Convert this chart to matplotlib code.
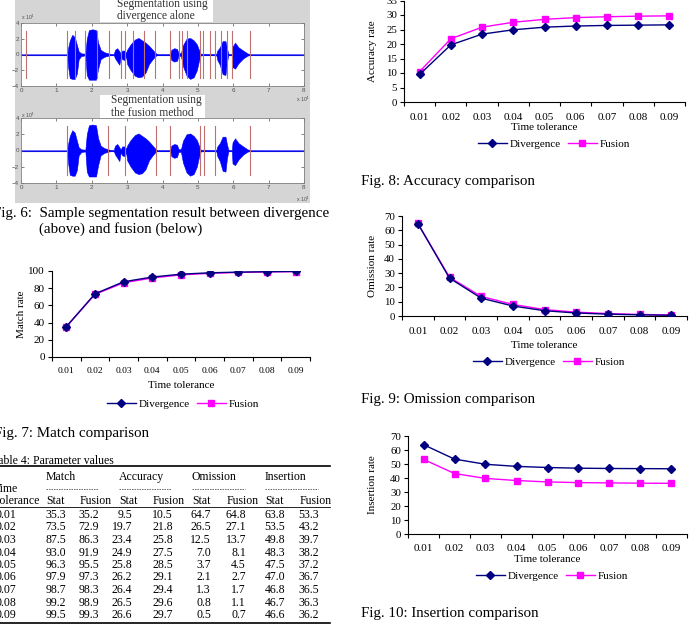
import numpy as np
import matplotlib
matplotlib.use("Agg")
import matplotlib.pyplot as plt
from matplotlib.lines import Line2D
from matplotlib.patches import Rectangle

W, H = 695, 635
plt.rcParams['font.family'] = ['Liberation Serif', 'DejaVu Serif']

# ---- data (Table 4) ----
tolerances = ['0.01', '0.02', '0.03', '0.04', '0.05', '0.06', '0.07', '0.08', '0.09']
table_tol = ['0.01', '0.02', '0.03', '0.04', '0.05', '0.06', '0.07', '0.08', '0.09']
match_stat = [35.3, 73.5, 87.5, 93.0, 96.3, 97.9, 98.7, 99.2, 99.5]
match_fusion = [35.2, 72.9, 86.3, 91.9, 95.5, 97.3, 98.3, 98.9, 99.3]
acc_stat = [9.5, 19.7, 23.4, 24.9, 25.8, 26.2, 26.4, 26.5, 26.6]
acc_fusion = [10.5, 21.8, 25.8, 27.5, 28.5, 29.1, 29.4, 29.6, 29.7]
omi_stat = [64.7, 26.5, 12.5, 7.0, 3.7, 2.1, 1.3, 0.8, 0.5]
omi_fusion = [64.8, 27.1, 13.7, 8.1, 4.5, 2.7, 1.7, 1.1, 0.7]
ins_stat = [63.8, 53.5, 49.8, 48.3, 47.5, 47.0, 46.8, 46.7, 46.6]
ins_fusion = [53.3, 43.2, 39.7, 38.2, 37.2, 36.7, 36.5, 36.3, 36.2]

# ---- waveform envelope (x in 1e4 samples, amplitude in 1e4) ----
wave_x = [0, 1.30, 1.33, 1.38, 1.45, 1.52, 1.58, 1.63, 1.70, 1.82, 1.86, 1.92, 2.02, 2.12,
          2.18, 2.25, 2.35, 2.50, 2.62, 2.66, 2.72, 2.78, 2.82, 2.86, 2.93, 2.97, 3.00,
          3.10, 3.22, 3.32, 3.42, 3.52, 3.62, 3.72, 3.80, 3.85, 4.22, 4.25, 4.33, 4.41,
          4.45, 4.52, 4.58, 4.68, 4.78, 4.88, 4.97, 5.03, 5.08, 5.52, 5.55, 5.62, 5.70,
          5.78, 5.82, 5.86, 5.96, 5.98, 6.05, 6.15, 6.28, 6.40, 6.48, 8.0]
wave_top = [0, 0, 0.8, 1.8, 2.5, 2.2, 1.2, 0.4, 0.15, 0.1, 2.0, 3.1, 3.2, 3.1,
            1.5, 0.6, 0.3, 0.1, 0.05, 0.6, 0.8, 0.4, 0.1, 0.5, 0.5, 0.2, 0.6,
            1.3, 1.9, 2.1, 1.8, 1.5, 1.1, 0.6, 0.2, 0.05, 0.05, 0.6, 0.8, 0.7,
            0.2, 0.15, 1.2, 2.0, 2.1, 1.8, 1.3, 0.6, 0.1, 0.05, 0.5, 0.9, 1.7,
            1.7, 0.8, 0.1, 0.05, 1.0, 1.5, 0.9, 0.5, 0.15, 0.03, 0]
wave_bot = [0, 0, -1.5, -3.0, -3.1, -3.1, -2.4, -0.6, -0.2, -0.1, -2.6, -3.2, -3.2, -3.2,
            -1.8, -0.6, -0.3, -0.1, -0.05, -0.5, -0.9, -1.3, -0.2, -0.6, -0.7, -0.2, -1.2,
            -2.0, -2.7, -2.9, -2.8, -2.3, -1.2, -0.6, -0.2, -0.05, -0.05, -0.7, -0.9, -0.8,
            -0.2, -0.15, -1.5, -2.7, -3.1, -2.9, -2.0, -0.8, -0.1, -0.05, -0.7, -1.3, -2.5,
            -2.6, -1.0, -0.1, -0.05, -1.6, -1.8, -1.1, -0.5, -0.15, -0.03, 0]
bounds_divergence = [0.14, 1.30, 1.52, 1.80, 2.16, 2.48, 2.82, 2.93, 3.17, 3.49, 3.79,
                     4.20, 4.48, 4.56, 4.70, 5.05, 5.15, 5.35, 5.48, 5.64, 5.83, 5.97, 6.47]
bounds_fusion = [1.30, 2.47, 2.94, 3.81, 4.21, 5.05, 5.17, 5.48, 6.47]


def rect(x0, y0, x1, y1):
    return [x0 / W, 1 - y1 / H, (x1 - x0) / W, (y1 - y0) / H]


def fx(x):
    return x / W


def fy(y):
    return 1 - y / H


fig = plt.figure(figsize=(W / 100, H / 100), dpi=100)
fig.patch.set_facecolor('white')

# ---------------- Fig. 6: waveform panels ----------------
fig.add_artist(Rectangle((fx(15), fy(203)), fx(310) - fx(15), fy(0) - fy(203),
                         transform=fig.transFigure, facecolor='#d5d5d5', edgecolor='none', zorder=0))


def wave_panel(r, bounds, ylab_y, xlab_y):
    ax = fig.add_axes(r)
    ax.fill_between(wave_x, wave_bot, wave_top, color='#0000ff', lw=0.4, zorder=2)
    ax.axhline(0, color='#2020c0', lw=0.8, zorder=1)
    for b in bounds:
        ax.plot([b, b], [-3, 3], color='#c07070', lw=0.8, zorder=3)
    ax.set_xlim(0, 8)
    ax.set_ylim(-4, 4)
    ax.set_xticks(range(9))
    ax.set_yticks([-4, -2, 0, 2, 4])
    ax.tick_params(direction='in', length=2, width=0.5, labelsize=4.5, pad=1.5,
                   colors='#505050', top=True, right=True)
    for lab in ax.get_xticklabels() + ax.get_yticklabels():
        lab.set_family('Liberation Sans')
    for s in ax.spines.values():
        s.set_color('#808080')
        s.set_linewidth(0.6)
    fig.text(fx(21), fy(ylab_y), r'x 10$^4$', fontsize=3.8, family='Liberation Sans',
             color='#505050', va='center')
    fig.text(fx(296), fy(xlab_y), r'x 10$^4$', fontsize=3.8, family='Liberation Sans',
             color='#505050', va='center')
    return ax


wave_panel(rect(21, 23, 304, 86), bounds_divergence, 17, 99)
wave_panel(rect(21, 118, 304, 183), bounds_fusion, 115, 199)

fig.add_artist(Rectangle((fx(100), fy(22)), fx(213) - fx(100), fy(0) - fy(22),
                         transform=fig.transFigure, facecolor='white', edgecolor='none', zorder=1))
fig.add_artist(Rectangle((fx(100), fy(118)), fx(205) - fx(100), fy(95) - fy(118),
                         transform=fig.transFigure, facecolor='white', edgecolor='none', zorder=1))
fig.text(fx(117), fy(4.5), 'Segmentation using', fontsize=8.3, va='center', color='#303030')
fig.text(fx(117), fy(16.5), 'divergence alone', fontsize=8.3, va='center', color='#303030')
fig.text(fx(111), fy(100.5), 'Segmentation using', fontsize=8.3, va='center', color='#303030')
fig.text(fx(111), fy(112.5), 'the fusion method', fontsize=8.3, va='center', color='#303030')

cap_fs = 10.8
fig.text(fx(-7), fy(213), 'Fig. 6:  Sample segmentation result between divergence',
         fontsize=cap_fs, va='center')
fig.text(fx(39), fy(229), '(above) and fusion (below)', fontsize=cap_fs, va='center')


# ---------------- rate charts ----------------
def rate_chart(r, div, fus, ymax, ystep, ylabel, ylab_x, tick_pad, tick_fs, ytick_fs,
               xlab_y, leg_x, leg_y):
    ax = fig.add_axes(r)
    x = np.arange(1, len(tolerances) + 1)
    ax.plot(x, div, color='#000080', marker='D', ms=4.2, lw=1.0, label='Divergence', zorder=3)
    ax.plot(x, fus, color='#ff00ff', marker='s', ms=5, lw=1.0, label='Fusion', zorder=2)
    ax.set_xlim(0.5, len(tolerances) + 0.5)
    ax.set_ylim(0, ymax)
    ax.set_xticks(np.arange(0.5, len(tolerances) + 1, 1))
    ax.set_xticklabels([])
    ax.set_xticks(x, minor=True)
    ax.set_xticklabels(tolerances, minor=True)
    ax.tick_params(axis='x', which='minor', length=0, pad=tick_pad, labelsize=tick_fs)
    ax.tick_params(axis='x', which='major', length=3, width=0.8, direction='out')
    ax.set_yticks(np.arange(0, ymax + 1, ystep))
    ax.tick_params(axis='y', length=3, width=0.8, direction='out', labelsize=ytick_fs, pad=2)
    for s in ['top', 'right']:
        ax.spines[s].set_visible(False)
    for s in ['left', 'bottom']:
        ax.spines[s].set_linewidth(0.8)
    ax.set_facecolor('none')
    fig.text(fx(ylab_x), (r[1] + r[1] + r[3]) / 2, ylabel, rotation=90,
             fontsize=8, ha='center', va='center')
    fig.text((r[0] + r[0] + r[2]) / 2, fy(xlab_y), 'Time tolerance', fontsize=8,
             ha='center', va='center')
    ax.legend(loc='center', bbox_to_anchor=(fx(leg_x), fy(leg_y)), bbox_transform=fig.transFigure,
              ncol=2, frameon=False, fontsize=8, handlelength=2.6, handletextpad=0.3,
              columnspacing=0.6, borderpad=0)
    return ax


rate_chart(rect(52, 271, 310, 357), match_stat, match_fusion, 100, 20, 'Match rate', 21,
           7.5, 6.8, 8, 385, 183, 404)
fig.text(fx(-6), fy(433), 'Fig. 7: Match comparison', fontsize=cap_fs, va='center')

rate_chart(rect(404, 0.5, 685, 102), acc_stat, acc_fusion, 35, 5, 'Accuracy rate', 372,
           8, 8, 7.8, 128, 554, 144)
fig.text(fx(361), fy(182), 'Fig. 8: Accuracy comparison', fontsize=cap_fs, va='center')

rate_chart(rect(402, 216, 687, 316), omi_stat, omi_fusion, 70, 10, 'Omission rate', 372,
           8, 8, 7.8, 345, 549, 362)
fig.text(fx(361), fy(400), 'Fig. 9: Omission comparison', fontsize=cap_fs, va='center')

rate_chart(rect(408, 436, 687, 534), ins_stat, ins_fusion, 70, 10, 'Insertion rate', 373,
           7, 8, 7.8, 559, 552, 576)
fig.text(fx(361), fy(614), 'Fig. 10: Insertion comparison', fontsize=cap_fs, va='center')

# ---------------- Table 4 ----------------
tfs = 8.5
fig.text(fx(-8), fy(461), 'Table 4: Parameter values', fontsize=tfs, va='center')


def hline(x0, x1, y, lw):
    fig.add_artist(Line2D([fx(x0), fx(x1)], [fy(y), fy(y)], transform=fig.transFigure,
                          color='k', lw=lw))


hline(0, 330, 466, 1.2)
hline(0, 330, 507, 0.6)
hline(0, 330, 623, 1.2)

groups = ['Match', 'Accuracy', 'Omission', 'Insertion']
group_x = [46, 119, 192, 265]
fusion_x = [80, 153, 227, 300]
stat_right = [66, 132, 211, 285]
fusion_right = [99, 173, 246, 319]
for g, gx, fxx in zip(groups, group_x, fusion_x):
    fig.text(fx(gx), fy(477), g, fontsize=tfs, va='center')
    fig.add_artist(Line2D([fx(gx), fx(fxx + 18)], [fy(489), fy(489)], transform=fig.transFigure,
                          color='#333333', lw=0.5, linestyle=(0, (2.2, 1.4))))
    fig.text(fx(gx), fy(501), 'Stat', fontsize=tfs, va='center')
    fig.text(fx(fxx), fy(501), 'Fusion', fontsize=tfs, va='center')
fig.text(fx(-6), fy(489), 'Time', fontsize=tfs, va='center')
fig.text(fx(-3), fy(501), 'tolerance', fontsize=tfs, va='center')

columns = [(match_stat, match_fusion), (acc_stat, acc_fusion),
           (omi_stat, omi_fusion), (ins_stat, ins_fusion)]
for i, t in enumerate(table_tol):
    y = 515 + i * 12.5
    fig.text(fx(-5), fy(y), t, fontsize=tfs, va='center')
    for (st, fu), sr, fr in zip(columns, stat_right, fusion_right):
        fig.text(fx(sr), fy(y), '%.1f' % st[i], fontsize=tfs, va='center', ha='right')
        fig.text(fx(fr), fy(y), '%.1f' % fu[i], fontsize=tfs, va='center', ha='right')

fig.savefig('out.png', dpi=100)
